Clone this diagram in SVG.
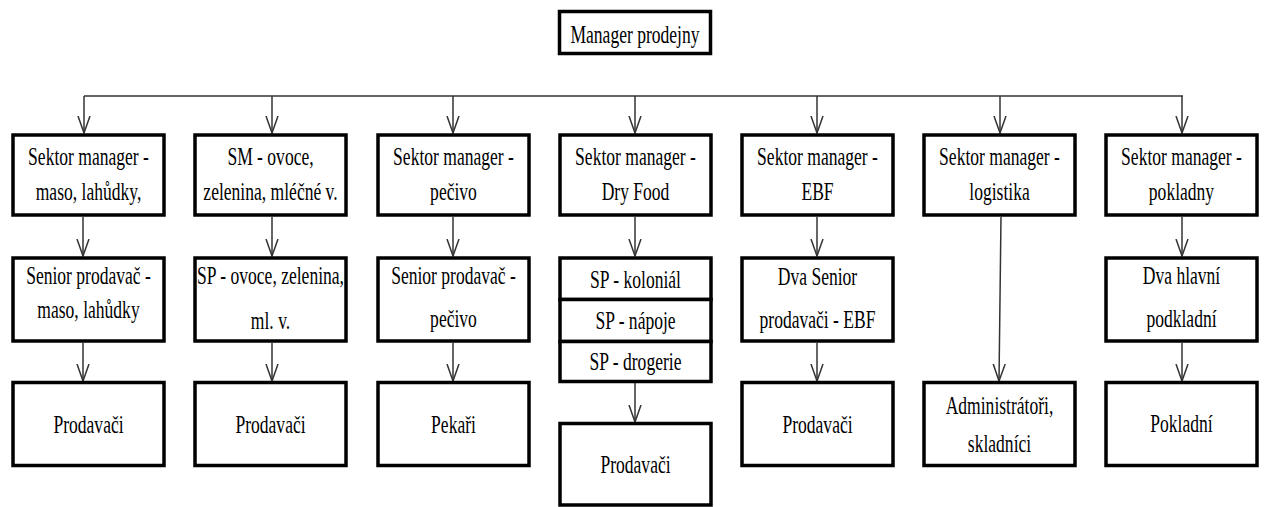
<svg xmlns="http://www.w3.org/2000/svg" width="1264" height="507" viewBox="0 0 1264 507">
  <style>
    .box{fill:#fff;stroke:#000;stroke-width:3.5}
    .lbl{font-family:"Liberation Serif","Times New Roman",serif;font-size:26px;fill:#000;text-anchor:middle}
    .wire{fill:none;stroke:#333;stroke-width:1.5}
  </style>
  <defs>
    <marker id="arrow" markerUnits="userSpaceOnUse" viewBox="0 0 18 14" refX="17" refY="7" markerWidth="18" markerHeight="14" orient="auto">
      <path d="M0,1 L17,7 L0,13" fill="none" stroke="#333" stroke-width="1.5"/>
    </marker>
  </defs>
  <rect width="1264" height="507" fill="#fff"/>

  <!-- connectors -->
  <g id="connectors" class="wire">
    <path d="M84,96 H1183"/>
    <path d="M84,96 V133" marker-end="url(#arrow)"/>
    <path d="M272,96 V133" marker-end="url(#arrow)"/>
    <path d="M453,96 V133" marker-end="url(#arrow)"/>
    <path d="M635,96 V133" marker-end="url(#arrow)"/>
    <path d="M817,96 V133" marker-end="url(#arrow)"/>
    <path d="M1000,96 V133" marker-end="url(#arrow)"/>
    <path d="M1182,96 V133" marker-end="url(#arrow)"/>

    <path d="M83,217 V256" marker-end="url(#arrow)"/>
    <path d="M272,217 V256" marker-end="url(#arrow)"/>
    <path d="M453,217 V256" marker-end="url(#arrow)"/>
    <path d="M635,217 V256" marker-end="url(#arrow)"/>
    <path d="M817,217 V256" marker-end="url(#arrow)"/>
    <path d="M1182,217 V256" marker-end="url(#arrow)"/>
    <path d="M1001,217 L999,381" marker-end="url(#arrow)"/>

    <path d="M83,343 V381" marker-end="url(#arrow)"/>
    <path d="M272,343 V381" marker-end="url(#arrow)"/>
    <path d="M453,343 V381" marker-end="url(#arrow)"/>
    <path d="M817,343 V381" marker-end="url(#arrow)"/>
    <path d="M1182,343 V381" marker-end="url(#arrow)"/>
    <path d="M635,383 V422" marker-end="url(#arrow)"/>
  </g>

  <!-- top -->
  <g id="manager">
    <rect class="box" x="559.5" y="11.5" width="151" height="42"/>
    <text class="lbl" transform="translate(635 43) scale(0.675 1)">Manager prodejny</text>
  </g>

  <!-- sector managers -->
  <g id="sm-maso">
    <rect class="box" x="13" y="135" width="151" height="80"/>
    <text class="lbl" transform="translate(88.5 165) scale(0.675 1)">Sektor manager -</text>
    <text class="lbl" transform="translate(88.5 200) scale(0.675 1)">maso, lahůdky,</text>
  </g>
  <g id="sm-ovoce">
    <rect class="box" x="195" y="135" width="151" height="80"/>
    <text class="lbl" transform="translate(270.5 165) scale(0.675 1)">SM - ovoce,</text>
    <text class="lbl" transform="translate(270.5 200) scale(0.675 1)">zelenina, mléčné v.</text>
  </g>
  <g id="sm-pecivo">
    <rect class="box" x="378" y="135" width="151" height="80"/>
    <text class="lbl" transform="translate(453.5 165) scale(0.675 1)">Sektor manager -</text>
    <text class="lbl" transform="translate(453.5 200) scale(0.675 1)">pečivo</text>
  </g>
  <g id="sm-dryfood">
    <rect class="box" x="560" y="135" width="151" height="80"/>
    <text class="lbl" transform="translate(635.5 165) scale(0.675 1)">Sektor manager -</text>
    <text class="lbl" transform="translate(635.5 200) scale(0.675 1)">Dry Food</text>
  </g>
  <g id="sm-ebf">
    <rect class="box" x="742" y="135" width="151" height="80"/>
    <text class="lbl" transform="translate(817.5 165) scale(0.675 1)">Sektor manager -</text>
    <text class="lbl" transform="translate(817.5 200) scale(0.675 1)">EBF</text>
  </g>
  <g id="sm-logistika">
    <rect class="box" x="924" y="135" width="151" height="80"/>
    <text class="lbl" transform="translate(999.5 165) scale(0.675 1)">Sektor manager -</text>
    <text class="lbl" transform="translate(999.5 200) scale(0.675 1)">logistika</text>
  </g>
  <g id="sm-pokladny">
    <rect class="box" x="1106" y="135" width="151" height="80"/>
    <text class="lbl" transform="translate(1181.5 165) scale(0.675 1)">Sektor manager -</text>
    <text class="lbl" transform="translate(1181.5 200) scale(0.675 1)">pokladny</text>
  </g>

  <!-- senior level -->
  <g id="sp-maso">
    <rect class="box" x="13" y="258" width="151" height="83"/>
    <text class="lbl" transform="translate(88.5 284) scale(0.675 1)">Senior prodavač -</text>
    <text class="lbl" transform="translate(88.5 318) scale(0.675 1)">maso, lahůdky</text>
  </g>
  <g id="sp-ovoce">
    <rect class="box" x="195" y="258" width="151" height="83"/>
    <text class="lbl" transform="translate(270.5 284) scale(0.675 1)">SP - ovoce, zelenina,</text>
    <text class="lbl" transform="translate(270.5 329) scale(0.675 1)">ml. v.</text>
  </g>
  <g id="sp-pecivo">
    <rect class="box" x="378" y="258" width="151" height="83"/>
    <text class="lbl" transform="translate(453.5 284) scale(0.675 1)">Senior prodavač -</text>
    <text class="lbl" transform="translate(453.5 327) scale(0.675 1)">pečivo</text>
  </g>
  <g id="sp-dryfood">
    <rect class="box" x="560" y="258" width="151" height="41.5"/>
    <rect class="box" x="560" y="299.5" width="151" height="42"/>
    <rect class="box" x="560" y="341.5" width="151" height="40"/>
    <text class="lbl" transform="translate(635.5 288) scale(0.675 1)">SP - koloniál</text>
    <text class="lbl" transform="translate(635.5 329) scale(0.675 1)">SP - nápoje</text>
    <text class="lbl" transform="translate(635.5 370) scale(0.675 1)">SP - drogerie</text>
  </g>
  <g id="sp-ebf">
    <rect class="box" x="742" y="258" width="151" height="83"/>
    <text class="lbl" transform="translate(817.5 285) scale(0.675 1)">Dva Senior</text>
    <text class="lbl" transform="translate(817.5 328) scale(0.675 1)">prodavači - EBF</text>
  </g>
  <g id="sp-pokladny">
    <rect class="box" x="1106" y="258" width="151" height="83"/>
    <text class="lbl" transform="translate(1181.5 284) scale(0.675 1)">Dva hlavní</text>
    <text class="lbl" transform="translate(1181.5 327) scale(0.675 1)">podkladní</text>
  </g>

  <!-- staff level -->
  <g id="staff-maso">
    <rect class="box" x="13" y="382.5" width="151" height="83"/>
    <text class="lbl" transform="translate(88.5 433) scale(0.675 1)">Prodavači</text>
  </g>
  <g id="staff-ovoce">
    <rect class="box" x="195" y="382.5" width="151" height="83"/>
    <text class="lbl" transform="translate(270.5 433) scale(0.675 1)">Prodavači</text>
  </g>
  <g id="staff-pecivo">
    <rect class="box" x="378" y="382.5" width="151" height="83"/>
    <text class="lbl" transform="translate(453.5 433) scale(0.675 1)">Pekaři</text>
  </g>
  <g id="staff-dryfood">
    <rect class="box" x="560" y="423.5" width="151" height="81.5"/>
    <text class="lbl" transform="translate(635.5 473) scale(0.675 1)">Prodavači</text>
  </g>
  <g id="staff-ebf">
    <rect class="box" x="742" y="382.5" width="151" height="83"/>
    <text class="lbl" transform="translate(817.5 433) scale(0.675 1)">Prodavači</text>
  </g>
  <g id="staff-logistika">
    <rect class="box" x="924" y="382.5" width="151" height="83"/>
    <text class="lbl" transform="translate(999.5 414) scale(0.675 1)">Administrátoři,</text>
    <text class="lbl" transform="translate(999.5 452) scale(0.675 1)">skladníci</text>
  </g>
  <g id="staff-pokladny">
    <rect class="box" x="1106" y="382.5" width="151" height="83"/>
    <text class="lbl" transform="translate(1181.5 432) scale(0.675 1)">Pokladní</text>
  </g>
</svg>
